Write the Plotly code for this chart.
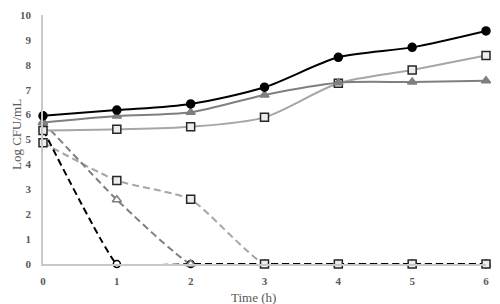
import plotly.graph_objects as go

time_h = [0, 1, 2, 3, 4, 5, 6]

# Solid (growth) series
control_black = [5.95, 6.18, 6.43, 7.10, 8.30, 8.70, 9.36]
control_gray = [5.68, 5.94, 6.09, 6.79, 7.28, 7.31, 7.36]
control_light = [5.36, 5.41, 5.51, 5.89, 7.26, 7.79, 8.37]

# Dashed (treated) series
treated_black = [5.40, 0, 0, 0, 0, 0, 0]
treated_gray = [5.70, 2.58, 0, 0, 0, 0, 0]
treated_light = [4.87, 3.35, 2.60, 0, 0, 0, 0]

y_ticks = list(range(0, 11))
x_ticks = time_h

SERIF = "Liberation Serif, Times New Roman, serif"
TXT = "#595959"
AX = "#c8c8c8"

fig = go.Figure()

def add(y, color, dash, symbol, mfill, mline, msize, smooth, mode="lines+markers"):
    fig.add_trace(go.Scatter(
        x=time_h, y=y, mode=mode,
        line=dict(color=color, width=2, dash=dash, shape="spline", smoothing=smooth),
        marker=dict(symbol=symbol, size=msize, color=mfill,
                    line=dict(color=mline, width=1.5)),
        cliponaxis=False, showlegend=False, hoverinfo="skip"))

add(treated_light, "#a6a6a6", "7px,4px", "square", "#ededed", "#262626", 8, 0.5, "lines")
add(treated_gray, "#7f7f7f", "7px,4px", "triangle-up", "#ffffff", "#7f7f7f", 8, 0.4, "lines")
add(treated_black, "#000000", "7px,4px", "circle", "#ffffff", "#000000", 7, 0.25, "lines")
add(treated_black, "#000000", "7px,4px", "circle", "#ffffff", "#000000", 7, 0.25, "markers")
add(treated_gray, "#7f7f7f", "7px,4px", "triangle-up", "#ffffff", "#7f7f7f", 8, 0.4, "markers")
add(treated_light, "#a6a6a6", "7px,4px", "square", "#ededed", "#262626", 8, 0.5, "markers")

add(control_light, "#a6a6a6", "solid", "square", "#ededed", "#262626", 8, 0.8)
add(control_gray, "#7f7f7f", "solid", "triangle-up", "#7f7f7f", "#7f7f7f", 8, 0.8)
add(control_black, "#000000", "solid", "circle", "#000000", "#000000", 8, 0.8)

# page body adds an 8px offset; margins compensate for it
fig.update_layout(
    width=500, height=304,
    margin=dict(l=35, r=22, t=7, b=48),
    paper_bgcolor="white", plot_bgcolor="white",
    font=dict(family=SERIF, color=TXT),
    xaxis=dict(range=[0, 6], tickvals=x_ticks, ticktext=[str(v) for v in x_ticks],
               showgrid=False, zeroline=False, showline=True, linecolor=AX, linewidth=1.5,
               ticks="", ticklabelstandoff=6, automargin=False,
               tickfont=dict(family=SERIF, size=11, color=TXT, weight="bold")),
    yaxis=dict(range=[0, 10], tickvals=y_ticks, ticktext=[str(v) for v in y_ticks],
               showgrid=False, zeroline=False, showline=True, linecolor=AX, linewidth=1.5,
               ticks="", ticklabelstandoff=8, automargin=False,
               tickfont=dict(family=SERIF, size=11, color=TXT, weight="bold")),
    annotations=[
        dict(text="Time (h)", xref="paper", yref="paper", x=0.475, y=0, yshift=-33,
             xanchor="center", yanchor="middle", showarrow=False,
             font=dict(family=SERIF, size=13, color=TXT)),
        dict(text="Log CFU/mL", xref="paper", yref="paper", x=0, xshift=-27, y=0.518,
             xanchor="center", yanchor="middle", textangle=-90, showarrow=False,
             font=dict(family=SERIF, size=13, color=TXT)),
    ],
)

fig.write_html("out.html")
